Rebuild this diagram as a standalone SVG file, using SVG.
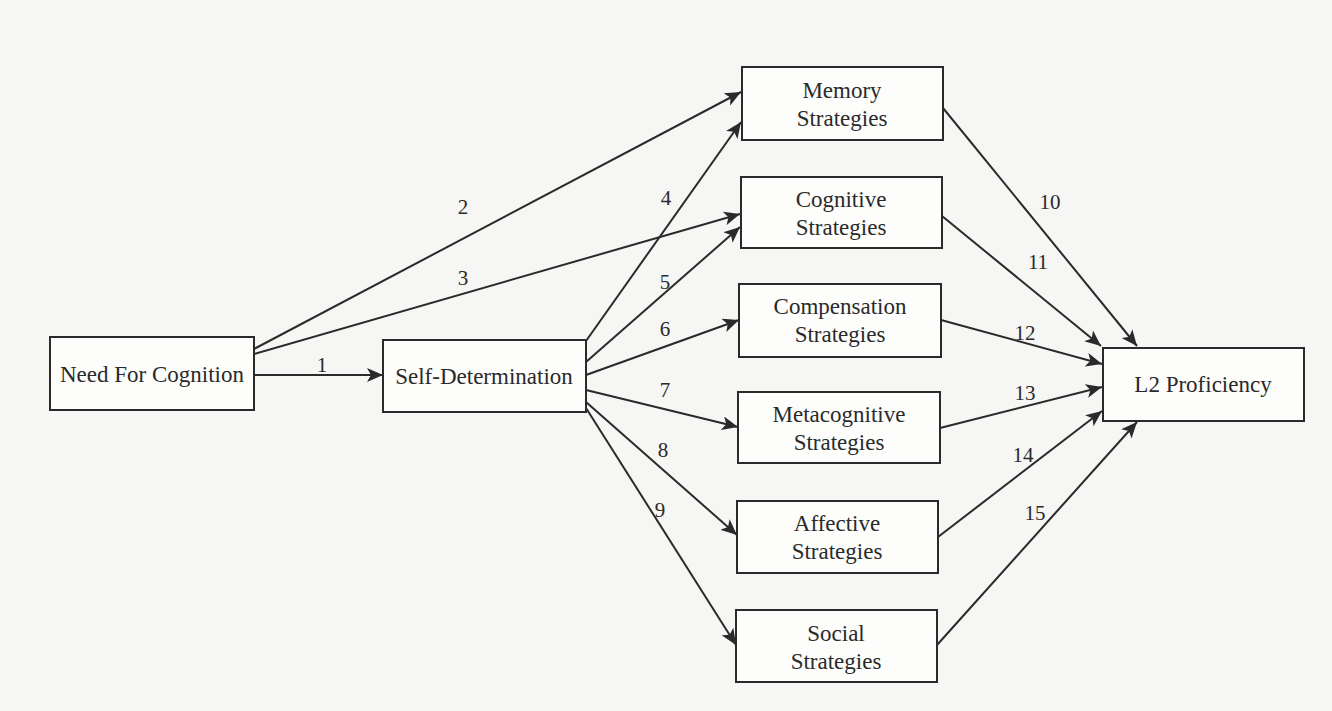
<svg xmlns="http://www.w3.org/2000/svg" width="1332" height="711" viewBox="0 0 1332 711">
<defs>
<style>
.box{fill:#fdfdfc;stroke:#2a2a2a;stroke-width:2}
.t{font-family:"Liberation Serif","Times New Roman",serif;font-size:23px;fill:#2a2a2a;text-anchor:middle}
.l{font-family:"Liberation Serif","Times New Roman",serif;font-size:21px;fill:#2a2a2a;text-anchor:middle}
.c{stroke:#2a2a2a;stroke-width:2;fill:none;marker-end:url(#ah)}
</style>
<marker id="ah" markerUnits="userSpaceOnUse" markerWidth="18" markerHeight="14" refX="16" refY="7" orient="auto">
<path d="M0,0 L16,7 L0,14 L4,7 Z" fill="#2a2a2a"/>
</marker>
</defs>
<rect width="1332" height="711" fill="#f6f6f4"/>
<g id="connectors">
<line class="c" x1="254" y1="375" x2="383" y2="375"/>
<line class="c" x1="254" y1="349" x2="741" y2="92"/>
<line class="c" x1="254" y1="354" x2="740" y2="214"/>
<line class="c" x1="586" y1="341" x2="741" y2="122"/>
<line class="c" x1="586" y1="362" x2="740" y2="227"/>
<line class="c" x1="586" y1="375" x2="739" y2="320"/>
<line class="c" x1="586" y1="390" x2="738" y2="427"/>
<line class="c" x1="586" y1="402" x2="737" y2="535"/>
<line class="c" x1="586" y1="408" x2="736" y2="645"/>
<line class="c" x1="943" y1="108" x2="1137" y2="346"/>
<line class="c" x1="942" y1="216" x2="1101" y2="346"/>
<line class="c" x1="941" y1="320" x2="1102" y2="364"/>
<line class="c" x1="940" y1="428" x2="1102" y2="387"/>
<line class="c" x1="938" y1="537" x2="1102" y2="411"/>
<line class="c" x1="937" y1="645" x2="1137" y2="422"/>
<text class="l" x="322" y="372">1</text>
<text class="l" x="463" y="214">2</text>
<text class="l" x="463" y="285">3</text>
<text class="l" x="666" y="205">4</text>
<text class="l" x="665" y="289">5</text>
<text class="l" x="665" y="336">6</text>
<text class="l" x="665" y="397">7</text>
<text class="l" x="663" y="457">8</text>
<text class="l" x="660" y="517">9</text>
<text class="l" x="1050" y="209">10</text>
<text class="l" x="1038" y="269">11</text>
<text class="l" x="1025" y="340">12</text>
<text class="l" x="1025" y="400">13</text>
<text class="l" x="1023" y="462">14</text>
<text class="l" x="1035" y="520">15</text>
</g>
<g id="nfc"><rect class="box" x="50" y="337" width="204" height="73"/><text class="t" x="152" y="382">Need For Cognition</text></g>
<g id="sd"><rect class="box" x="383" y="340" width="203" height="72"/><text class="t" x="484" y="384">Self-Determination</text></g>
<g id="memory"><rect class="box" x="742" y="67" width="201" height="73"/><text class="t" x="842" y="98">Memory</text><text class="t" x="842" y="126">Strategies</text></g>
<g id="cognitive"><rect class="box" x="741" y="177" width="201" height="71"/><text class="t" x="841" y="207">Cognitive</text><text class="t" x="841" y="235">Strategies</text></g>
<g id="compensation"><rect class="box" x="739" y="284" width="202" height="73"/><text class="t" x="840" y="314">Compensation</text><text class="t" x="840" y="342">Strategies</text></g>
<g id="metacognitive"><rect class="box" x="738" y="392" width="202" height="71"/><text class="t" x="839" y="422">Metacognitive</text><text class="t" x="839" y="450">Strategies</text></g>
<g id="affective"><rect class="box" x="737" y="501" width="201" height="72"/><text class="t" x="837" y="531">Affective</text><text class="t" x="837" y="559">Strategies</text></g>
<g id="social"><rect class="box" x="736" y="610" width="201" height="72"/><text class="t" x="836" y="641">Social</text><text class="t" x="836" y="669">Strategies</text></g>
<g id="l2"><rect class="box" x="1103" y="348" width="201" height="73"/><text class="t" x="1203" y="392">L2 Proficiency</text></g>
</svg>
